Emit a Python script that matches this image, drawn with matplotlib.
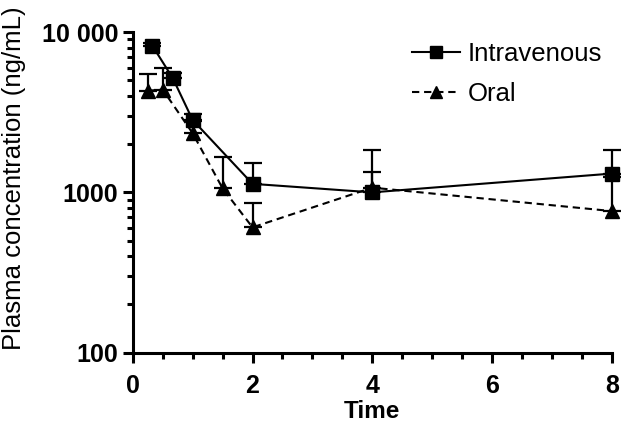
import numpy as np
import matplotlib.pyplot as plt
from matplotlib.lines import Line2D
from matplotlib.ticker import FixedLocator, LogLocator, NullFormatter, MultipleLocator

plt.rcParams['font.family'] = ['Liberation Sans', 'DejaVu Sans']

# values (ng/mL)
iv_time = [0.33, 0.67, 1, 2, 4, 8]
iv_conc = [8200, 5150, 2830, 1130, 1000, 1310]
iv_upper = [8500, 5550, 3080, 1520, 1340, 1840]

oral_time = [0.25, 0.5, 1, 1.5, 2, 4, 8]
oral_conc = [4300, 4380, 2340, 1060, 605, 1070, 764]
oral_upper = [5450, 5990, 2800, 1670, 861, 1840, 1250]

y_ticks = [100, 1000, 10000]
y_tick_labels = ['100', '1000', '10 000']
x_ticks = [0, 2, 4, 6, 8]

fig = plt.figure(figsize=(6.22, 4.23), dpi=100)
ax = fig.add_axes([0.2133, 0.1662, 0.7707, 0.7581])

iv_err = [np.zeros(len(iv_conc)), np.array(iv_upper) - np.array(iv_conc)]
oral_err = [np.zeros(len(oral_conc)), np.array(oral_upper) - np.array(oral_conc)]

ax.errorbar(oral_time, oral_conc, yerr=oral_err, color='black', lw=1.5,
            dashes=[3.5, 2.3], marker='^', ms=10, capsize=6.5, capthick=1.6,
            elinewidth=1.6, clip_on=False)
ax.errorbar(iv_time, iv_conc, yerr=iv_err, color='black', lw=1.5,
            marker='s', ms=9.5, capsize=6.5, capthick=1.6, elinewidth=1.6,
            clip_on=False)

ax.set_yscale('log')
ax.set_ylim(100, 10000)
ax.set_xlim(0, 8)
ax.yaxis.set_major_locator(FixedLocator(y_ticks))
ax.set_yticklabels(y_tick_labels)
ax.yaxis.set_minor_locator(LogLocator(base=10, subs=np.arange(2, 10)))
ax.yaxis.set_minor_formatter(NullFormatter())
ax.set_xticks(x_ticks)
ax.xaxis.set_minor_locator(MultipleLocator(0.5))

for side in ['top', 'right']:
    ax.spines[side].set_visible(False)
for side in ['left', 'bottom']:
    ax.spines[side].set_linewidth(2.2)

ax.tick_params(which='major', length=7, width=2.2, labelsize=18)
ax.tick_params(axis='x', which='major', pad=8)
ax.tick_params(which='minor', length=4.5, width=2.2)
for lab in ax.get_xticklabels() + ax.get_yticklabels():
    lab.set_fontweight('bold')

ax.set_xlabel('Time', fontsize=17.5, fontweight='bold', labelpad=2)
ax.set_ylabel('Plasma concentration (ng/mL)', fontsize=18.5)
ax.yaxis.set_label_coords(-0.222, 0.545)

handles = [
    Line2D([], [], color='black', lw=1.5, marker='s', ms=8),
    Line2D([], [], color='black', lw=1.5, dashes=[3.5, 2.3], marker='^', ms=8),
]
ax.legend(handles, ['Intravenous', 'Oral'], loc='upper left', bbox_to_anchor=(0.556, 1.01),
          frameon=False, fontsize=18.5, handlelength=1.85, handletextpad=0.3,
          labelspacing=0.62, borderpad=0)

fig.savefig('out.png', dpi=100)
